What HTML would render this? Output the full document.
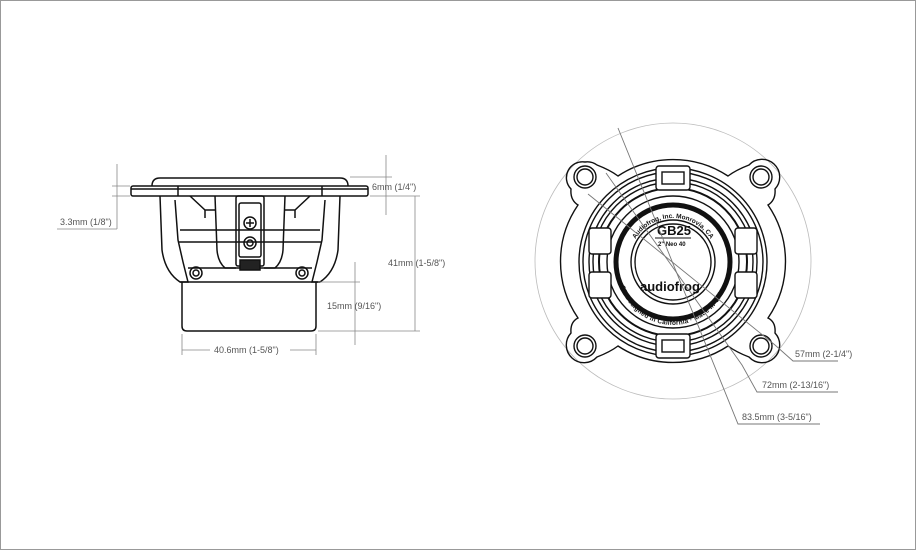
<!DOCTYPE html>
<html><head><meta charset="utf-8"><style>
html,body{margin:0;padding:0;background:#fff}
svg{display:block}
text{font-family:"Liberation Sans",sans-serif;font-size:9px;fill:#555}
</style></head><body>
<svg width="916" height="550" viewBox="0 0 916 550" xmlns="http://www.w3.org/2000/svg">
<rect x="0.5" y="0.5" width="915" height="549" fill="#fff" stroke="#999" stroke-width="1"/>

<g stroke="#111" fill="none" stroke-width="1.5">
  <path d="M152,186 Q152,178 160,178 L340,178 Q348,178 348,186"/>
  <rect x="131" y="186" width="237" height="10" rx="2"/>
  <line x1="131" y1="189" x2="368" y2="189"/>
  <line x1="178" y1="186" x2="178" y2="196"/><line x1="322" y1="186" x2="322" y2="196"/>
  <path d="M160,196 L162,250 Q165,272 180,282 L188,282 L183,262 L178,240 L175,200"/>
  <path d="M340,196 L338,250 Q335,272 320,282 L312,282 L317,262 L322,240 L325,200"/>
  <path d="M215,196 L217,250 Q218,262 225,268 L236,268"/>
  <path d="M285,196 L283,250 Q282,262 275,268 L264,268"/>
  <line x1="180" y1="230" x2="320" y2="230"/>
  <line x1="178" y1="242" x2="322" y2="242"/>
  <path d="M190,196 L205,210 L215,210"/>
  <path d="M310,196 L295,210 L285,210"/>
  <line x1="205" y1="210" x2="205" y2="218"/><line x1="295" y1="210" x2="295" y2="218"/>
  <line x1="188" y1="268" x2="312" y2="268"/>
  <line x1="180" y1="282" x2="320" y2="282"/>
  <rect x="236" y="196" width="28" height="70" rx="2"/>
  <rect x="239" y="203" width="22" height="54" rx="2"/>
  <circle cx="250" cy="223" r="6"/><path d="M246,223h8M250,219v8"/>
  <circle cx="250" cy="243" r="6"/><circle cx="250" cy="243" r="3"/>
  <rect x="240" y="260" width="20" height="10" fill="#222"/>
  <circle cx="196" cy="273" r="6"/><circle cx="196" cy="273" r="3"/>
  <circle cx="302" cy="273" r="6"/><circle cx="302" cy="273" r="3"/>
  <path d="M182,282 L182,326 Q182,331 187,331 L311,331 Q316,331 316,326 L316,282"/>
</g>
<g stroke="#888" fill="none" stroke-width="0.8">
  <line x1="117" y1="164" x2="117" y2="229"/>
  <line x1="112" y1="186" x2="130" y2="186"/><line x1="112" y1="196" x2="130" y2="196"/>
  <line x1="57" y1="229" x2="117" y2="229"/>
  <line x1="386" y1="155" x2="386" y2="215"/>
  <line x1="350" y1="177" x2="392" y2="177"/><line x1="370" y1="196" x2="420" y2="196"/>
  <line x1="415" y1="196" x2="415" y2="331"/>
  <line x1="318" y1="331" x2="420" y2="331"/>
  <line x1="355" y1="262" x2="355" y2="345"/>
  <line x1="318" y1="282" x2="360" y2="282"/>
  <line x1="182" y1="334" x2="182" y2="355"/><line x1="316" y1="334" x2="316" y2="355"/>
  <line x1="182" y1="350" x2="210" y2="350"/><line x1="290" y1="350" x2="316" y2="350"/>
</g>
<text x="60" y="225">3.3mm (1/8")</text>
<text x="372" y="190">6mm (1/4")</text>
<text x="388" y="266">41mm (1-5/8")</text>
<text x="327" y="309">15mm (9/16")</text>
<text x="214" y="353">40.6mm (1-5/8")</text>

<defs>
  <path id="arcTop" d="M629,262 A44,44 0 0 1 717,262"/>
  <path id="arcBot" d="M622,270 A51,51 0 0 0 724,270"/>
</defs>
<circle cx="673" cy="261" r="138" fill="none" stroke="#bbb" stroke-width="0.8"/>
<g fill="none" stroke="#111" stroke-width="1.4">
  <path d="M585,162 A16,16 0 0 0 571,189 Q570,200 578,205 A100,100 0 0 0 578,318 Q570,322 571,333 A16,16 0 0 0 597,357 Q610,352 618,346 A100,100 0 0 0 728,346 Q736,352 749,357 A16,16 0 0 0 775,333 Q776,322 768,318 A100,100 0 0 0 768,205 Q776,200 775,189 A16,16 0 0 0 749,165 Q736,170 728,176 A100,100 0 0 0 618,176 Q610,170 597,165 A16,16 0 0 0 585,162Z"/>
  <circle cx="585" cy="177" r="8"/><circle cx="761" cy="177" r="8"/>
  <circle cx="585" cy="346" r="8"/><circle cx="761" cy="346" r="8"/>
  <circle cx="585" cy="177" r="11"/><circle cx="761" cy="177" r="11"/>
  <circle cx="585" cy="346" r="11"/><circle cx="761" cy="346" r="11"/>
  <circle cx="673" cy="262" r="94"/>
  <circle cx="673" cy="262" r="90"/>
  <circle cx="673" cy="262" r="84"/>
  <circle cx="673" cy="262" r="80"/>
  <circle cx="673" cy="262" r="74" stroke-width="2"/>
  <circle cx="673" cy="262" r="66"/>
  <circle cx="673" cy="262" r="57" stroke-width="5"/>
  <circle cx="673" cy="262" r="42"/>
  <circle cx="673" cy="262" r="38"/>
  <rect x="656" y="166" width="34" height="24" rx="3" fill="#fff"/>
  <rect x="662" y="172" width="22" height="12"/>
  <rect x="656" y="334" width="34" height="24" rx="3" fill="#fff"/>
  <rect x="662" y="340" width="22" height="12"/>
  <rect x="589" y="228" width="22" height="26" rx="3" fill="#fff"/>
  <rect x="589" y="272" width="22" height="26" rx="3" fill="#fff"/>
  <rect x="735" y="228" width="22" height="26" rx="3" fill="#fff"/>
  <rect x="735" y="272" width="22" height="26" rx="3" fill="#fff"/>
</g>
<text x="657" y="235" style="font-size:13px;fill:#111;font-weight:bold">GB25</text>
<line x1="655" y1="238" x2="691" y2="238" stroke="#111"/>
<text x="658" y="246" style="font-size:6px;fill:#111;font-weight:bold">2" Neo 40</text>
<text x="640" y="291" style="font-size:13px;fill:#111;font-weight:bold">audiofrog</text>
<text style="font-size:6.5px;fill:#111;font-weight:bold"><textPath href="#arcTop" startOffset="50%" text-anchor="middle">Audiofrog, Inc. Monrovia, CA</textPath></text>
<text style="font-size:6.5px;fill:#111;font-weight:bold"><textPath href="#arcBot" startOffset="50%" text-anchor="middle" dominant-baseline="hanging">CE Designed in California · Made in China</textPath></text>
<g stroke="#777" fill="none" stroke-width="0.9">
  <polyline points="618,128 738,424 820,424"/>
  <polyline points="606,173 742,365 757,392 838,392"/>
  <polyline points="588,194 775,345 793,361 838,361"/>
</g>
<text x="795" y="357">57mm (2-1/4")</text>
<text x="762" y="388">72mm (2-13/16")</text>
<text x="742" y="420">83.5mm (3-5/16")</text>
</svg>
</body></html>
